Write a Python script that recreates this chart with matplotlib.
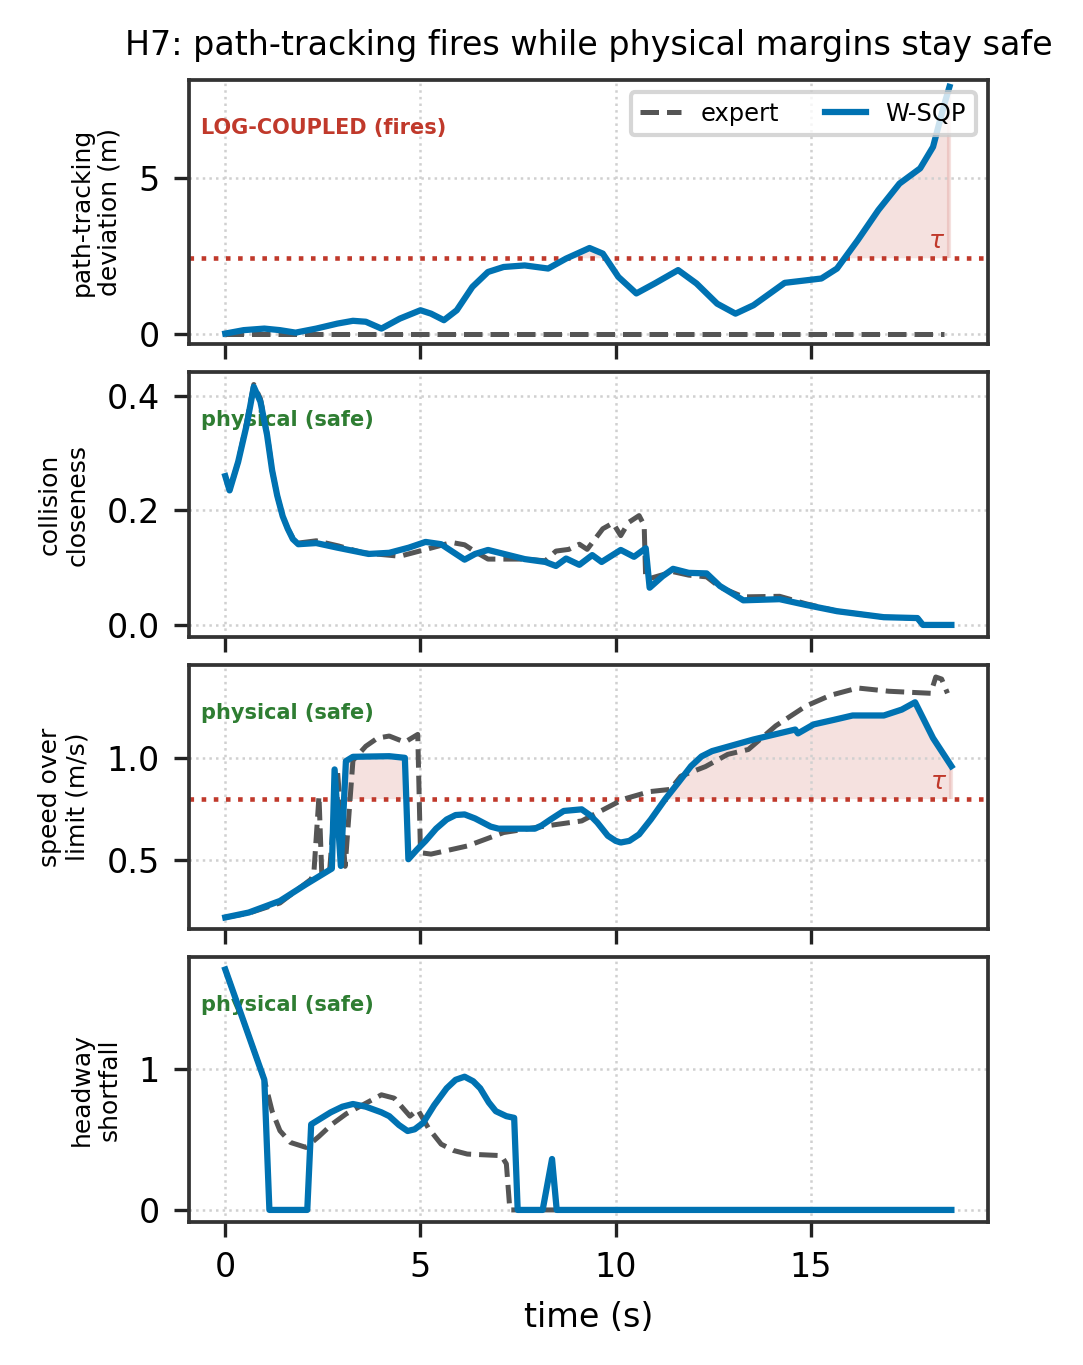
import numpy as np
import matplotlib
matplotlib.use("Agg")
import matplotlib.pyplot as plt

# ---- data ----
# panel 1: path-tracking deviation (m)
t_dev = [0, 0.47, 1.0, 1.4, 1.8, 2.33, 2.87, 3.27, 3.6, 4.0, 4.47, 5.0, 5.27, 5.6, 5.93, 6.33, 6.73,
         7.13, 7.67, 8.27, 8.73, 9.33, 9.67, 10.07, 10.53, 11.0, 11.6, 12.07, 12.6, 13.07, 13.53,
         14.33, 14.87, 15.27, 15.67, 16.2, 16.73, 17.27, 17.8, 18.13, 18.4, 18.55]
dev_wsqp = [0, 0.11, 0.16, 0.11, 0.03, 0.16, 0.32, 0.41, 0.38, 0.16, 0.48, 0.75, 0.64, 0.43, 0.75,
            1.5, 1.98, 2.14, 2.19, 2.09, 2.41, 2.75, 2.57, 1.82, 1.29, 1.61, 2.04, 1.61, 0.96, 0.64,
            0.91, 1.63, 1.71, 1.77, 2.09, 3.0, 3.97, 4.82, 5.31, 6.0, 7.29, 7.93]
t_dev_exp = [0, 18.4]
dev_exp = [0, 0]
tau_dev = 2.42

# panel 2: collision closeness
t_col = [0, 0.11, 0.33, 0.55, 0.73, 0.9, 1.07, 1.2, 1.33, 1.47, 1.6, 1.73, 1.87, 2.33, 2.87, 3.67,
         4.2, 4.7, 5.13, 5.53, 6.13, 6.4, 6.73, 7.2, 7.67, 8.2, 8.47, 8.73, 9.07, 9.4, 9.64, 10.13,
         10.47, 10.77, 10.87, 11.2, 11.47, 11.87, 12.33, 12.67, 13.27, 14.2, 14.87, 15.67, 16.87,
         17.73, 17.87, 18.6]
col_wsqp = [0.26, 0.235, 0.285, 0.35, 0.416, 0.39, 0.332, 0.27, 0.226, 0.19, 0.168, 0.15, 0.141,
            0.143, 0.135, 0.124, 0.126, 0.135, 0.145, 0.141, 0.114, 0.124, 0.131, 0.123, 0.115, 0.11,
            0.103, 0.116, 0.105, 0.122, 0.11, 0.131, 0.119, 0.134, 0.065, 0.085, 0.098, 0.091, 0.09,
            0.068, 0.043, 0.045, 0.035, 0.024, 0.0135, 0.012, 0.0, 0.0]
t_col_exp = [0, 0.11, 0.33, 0.55, 0.73, 0.9, 1.07, 1.2, 1.33, 1.47, 1.6, 1.73, 1.87, 2.33, 2.9,
             3.53, 4.47, 5.2, 5.8, 6.13, 6.4, 6.73, 7.67, 8.2, 8.47, 8.8, 9.07, 9.27, 9.67, 9.93,
             10.13, 10.33, 10.6, 10.73, 10.77, 11.47, 11.87, 12.33, 12.67, 13.27, 14.2, 14.87, 15.67,
             16.87, 17.73, 17.87, 18.6]
col_exp = [0.26, 0.235, 0.285, 0.355, 0.42, 0.395, 0.335, 0.27, 0.226, 0.19, 0.168, 0.152, 0.143,
           0.147, 0.138, 0.126, 0.12, 0.133, 0.144, 0.14, 0.128, 0.115, 0.115, 0.112, 0.129, 0.132,
           0.141, 0.132, 0.168, 0.178, 0.156, 0.179, 0.191, 0.174, 0.079, 0.093, 0.087, 0.084,
           0.066, 0.049, 0.05, 0.037, 0.024, 0.0135, 0.012, 0.0, 0.0]

# panel 3: speed over limit (m/s)
t_spd = [0, 0.6, 1.4, 2.07, 2.73, 2.8, 2.96, 3.09, 3.27, 4.2, 4.6, 4.69, 4.9, 5.13, 5.4, 5.67, 5.9,
         6.13, 6.4, 6.6, 6.8, 7.0, 7.93, 8.1, 8.33, 8.67, 9.13, 9.35, 9.53, 9.8, 10.0, 10.13,
         10.35, 10.6, 10.9, 11.27, 11.6, 11.93, 12.2, 12.47, 13.53, 14.6, 14.67, 15.07, 15.6,
         16.07, 16.87, 17.33, 17.67, 18.13, 18.6]
spd_wsqp = [0.219, 0.243, 0.30, 0.382, 0.459, 0.946, 0.472, 0.987, 1.008, 1.011, 1.003, 0.505, 0.55,
            0.595, 0.655, 0.70, 0.722, 0.725, 0.705, 0.685, 0.665, 0.655, 0.655, 0.67, 0.70, 0.742,
            0.75, 0.72, 0.685, 0.62, 0.595, 0.587, 0.595, 0.627, 0.70, 0.80, 0.88, 0.962, 1.01,
            1.036, 1.093, 1.142, 1.123, 1.167, 1.19, 1.211, 1.211, 1.24, 1.276, 1.10, 0.962]
t_spd_exp = [0, 0.6, 1.4, 2.2, 2.27, 2.4, 2.47, 2.67, 2.87, 3.07, 3.27, 3.6, 3.9, 4.2, 4.6, 4.93,
             5.0, 5.27, 6.2, 7.13, 8.2, 9.13, 10.2, 10.87, 11.4, 11.67, 12.3, 12.87, 13.4, 14.1,
             14.87, 15.5, 16.2, 17.0, 18.07, 18.2, 18.35, 18.5]
spd_exp = [0.219, 0.24, 0.29, 0.407, 0.44, 0.815, 0.44, 0.44, 0.946, 0.47, 0.99, 1.06, 1.10, 1.11,
           1.08, 1.118, 0.537, 0.53, 0.57, 0.636, 0.668, 0.693, 0.80, 0.837, 0.848, 0.913, 0.96,
           1.02, 1.044, 1.16, 1.257, 1.31, 1.346, 1.33, 1.32, 1.40, 1.39, 1.32]
tau_spd = 0.80

# panel 4: headway shortfall
t_hw = [0, 1.0, 1.13, 2.1, 2.2, 2.7, 3.0, 3.27, 3.6, 4.0, 4.2, 4.45, 4.67, 4.85, 5.07, 5.35, 5.67,
        5.9, 6.13, 6.35, 6.53, 6.75, 6.93, 7.2, 7.4, 7.49, 8.13, 8.37, 8.49, 18.6]
hw_wsqp = [1.70, 0.92, 0, 0, 0.605, 0.69, 0.73, 0.749, 0.73, 0.69, 0.663, 0.6, 0.558, 0.57, 0.616,
           0.74, 0.86, 0.92, 0.942, 0.91, 0.86, 0.76, 0.698, 0.663, 0.651, 0, 0, 0.36, 0, 0]
t_hw_exp = [0, 1.0, 1.2, 1.4, 1.67, 2.07, 2.4, 2.73, 3.1, 3.53, 4.0, 4.33, 4.55, 4.73, 4.93, 5.2,
            5.53, 5.85, 6.2, 7.07, 7.2, 7.29, 8.27, 18.6]
hw_exp = [1.70, 0.92, 0.698, 0.56, 0.477, 0.442, 0.52, 0.605, 0.68, 0.744, 0.814, 0.79, 0.72, 0.663,
          0.709, 0.58, 0.465, 0.42, 0.395, 0.384, 0.326, 0, 0, 0]

ylabels = ["path-tracking\ndeviation (m)", "collision\ncloseness", "speed over\nlimit (m/s)",
           "headway\nshortfall"]
tags = ["LOG-COUPLED (fires)", "physical (safe)", "physical (safe)", "physical (safe)"]

c_wsqp = "#0072B2"
c_exp = "#555555"
c_red = "#c0392b"
c_green = "#2e7d32"

fig, axes = plt.subplots(4, 1, figsize=(1083 / 300, 1365 / 300), dpi=300, sharex=True)
fig.subplots_adjust(left=0.1745, right=0.912, top=0.9414, bottom=0.1048, hspace=0.106)

series = [
    (t_dev_exp, dev_exp, t_dev, dev_wsqp, tau_dev),
    (t_col_exp, col_exp, t_col, col_wsqp, None),
    (t_spd_exp, spd_exp, t_spd, spd_wsqp, tau_spd),
    (t_hw_exp, hw_exp, t_hw, hw_wsqp, None),
]

for i, (ax, (te, ye, tw, yw, tau)) in enumerate(zip(axes, series)):
    ax.plot(te, ye, color=c_exp, ls="--", lw=1.2, label="expert", zorder=3)
    ax.plot(tw, yw, color=c_wsqp, lw=1.5, label="W-SQP", zorder=4, solid_joinstyle="round")
    if i == 0:
        ax.set_ylim(-0.35, 8.15)
    if tau is not None:
        ax.axhline(tau, color=c_red, ls=":", lw=1.1, zorder=2)
        tw_a = np.array(tw)
        yw_a = np.array(yw)
        tt = np.linspace(tw_a[0], tw_a[-1], 2000)
        yy = np.interp(tt, tw_a, yw_a)
        ax.fill_between(tt, tau, yy, where=yy > tau, color=c_red, alpha=0.15, lw=0, zorder=1)
        ax.vlines(tw_a[-1], tau, yw_a[-1], color=c_red, alpha=0.15, lw=1.0)
        ylo, yhi = ax.get_ylim()
        ax.text(tw_a[-1] - 0.1, tau + 0.02 * (yhi - ylo), r"$\tau$",
                color=c_red, fontsize=6, ha="right", va="bottom")
    ax.grid(True, ls=":", lw=0.6, color="#d0d0d0")
    ax.set_ylabel(ylabels[i], fontsize=6.0)
    ax.tick_params(labelsize=8, width=0.8, color="#222222")
    for s in ax.spines.values():
        s.set_color("#333333")
        s.set_linewidth(0.9)
    ax.text(0.015, 0.82, tags[i], transform=ax.transAxes, fontsize=5.0, fontweight="bold",
            color=c_red if i == 0 else c_green, va="center", ha="left")

axes[0].set_yticks([0, 5])
axes[1].set_yticks([0.0, 0.2, 0.4])
axes[2].set_yticks([0.5, 1.0])
axes[3].set_yticks([0, 1])
axes[3].set_xticks([0, 5, 10, 15])
axes[3].set_xlabel("time (s)", fontsize=8)
axes[0].set_title("H7: path-tracking fires while physical margins stay safe", fontsize=8.0)
axes[0].legend(loc="upper right", ncol=2, fontsize=5.8, framealpha=0.8, borderpad=0.4,
               handlelength=1.7, columnspacing=1.9)

fig.savefig("out.png", dpi=300)
